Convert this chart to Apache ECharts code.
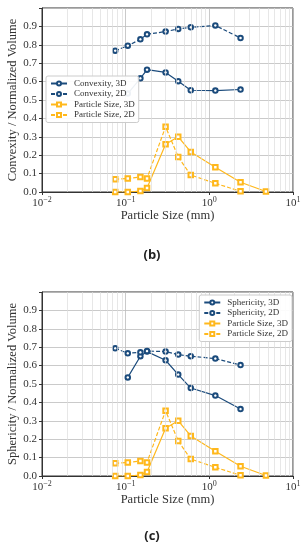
<!DOCTYPE html>
<html><head><meta charset="utf-8">
<script src="https://cdn.jsdelivr.net/npm/echarts@6/dist/echarts.min.js"></script>
<style>html,body{margin:0;padding:0;background:#fff}#c{width:304px;height:550px}</style>
</head><body><div id="c"></div>
<script>
// sieve sizes (mm)
const sizes = [0.075, 0.106, 0.15, 0.18, 0.3, 0.425, 0.6, 1.18, 2.36, 4.75];
const sizesShape = [0.075, 0.106, 0.15, 0.18, 0.3, 0.425, 0.6, 1.18, 2.36];
const sizes3D = [0.106, 0.15, 0.18, 0.3, 0.425, 0.6, 1.18, 2.36];
const psd3D = [0.0, 0.0, 0.005, 0.022, 0.26, 0.30, 0.218, 0.134, 0.053, 0.003];
const psd2D = [0.069, 0.074, 0.081, 0.074, 0.355, 0.19, 0.092, 0.047, 0.004, null];
const convexity3D = [0.535, 0.618, 0.665, 0.65, 0.602, 0.553, 0.551, 0.557];
const convexity2D = [0.768, 0.795, 0.83, 0.857, 0.872, 0.886, 0.895, 0.905, 0.837];
const sphericity3D = [0.536, 0.651, 0.676, 0.629, 0.551, 0.478, 0.437, 0.364];
const sphericity2D = [0.694, 0.667, 0.672, 0.679, 0.676, 0.66, 0.651, 0.638, 0.603];
const yTicks = [0, 0.1, 0.2, 0.3, 0.4, 0.5, 0.6, 0.7, 0.8, 0.9];
const minorX = [];
[0.01, 0.1, 1].forEach(d => { for (let k = 2; k <= 9; k++) minorX.push(+(d * k).toPrecision(3)); });

const BLUE = '#1b4b7c', YEL = '#ffb81c';
const FONT = 'Liberation Serif';
const pair = (xs, ys) => xs.map((x, i) => [x, ys[i]]).filter(p => p[1] !== null);

function xAxis(gi) {
  return {
    type: 'log', logBase: 10, min: 0.01, max: 10, gridIndex: gi,
    name: 'Particle Size (mm)', nameLocation: 'middle', nameGap: 17, nameMoveOverlap: false,
    nameTextStyle: { fontFamily: FONT, fontSize: 12.5, color: '#333' },
    axisLine: { show: true, lineStyle: { color: '#333', width: 1 } },
    axisTick: { show: true, inside: false, length: 3, lineStyle: { color: '#333' } },
    axisLabel: {
      margin: 4, color: '#333', fontFamily: FONT, fontSize: 11,
      formatter: v => '{b|10}{s|' + (Math.round(Math.log10(v)) < 0 ? '\u2212' + Math.abs(Math.round(Math.log10(v))) : Math.round(Math.log10(v))) + '}',
      rich: { b: { fontFamily: FONT, fontSize: 11, color: '#333' }, s: { fontFamily: FONT, fontSize: 8, color: '#333', padding: [0, 0, 7, 0] } }
    },
    splitLine: { show: true, lineStyle: { color: '#bdbdbd', width: 0.8 } }
  };
}
function yAxis(gi, name) {
  return {
    type: 'value', min: 0, max: 1, interval: 0.1, gridIndex: gi,
    name: name, nameLocation: 'middle', nameGap: 23, nameMoveOverlap: false,
    nameTextStyle: { fontFamily: FONT, fontSize: 12.5, color: '#333' },
    axisLine: { show: true, lineStyle: { color: '#333', width: 1 } },
    axisTick: { show: true, length: 3, lineStyle: { color: '#333' } },
    axisLabel: { margin: 5, color: '#333', fontFamily: FONT, fontSize: 11,
      formatter: v => yTicks.some(t => Math.abs(t - v) < 1e-6) ? v.toFixed(1) : '' },
    splitLine: { show: true, lineStyle: { color: '#bdbdbd', width: 0.8 } }
  };
}
function minorLines() {
  return {
    silent: true, symbol: 'none', animation: false,
    label: { show: false },
    lineStyle: { color: '#dcdcdc', width: 0.7, type: 'solid' },
    data: minorX.map(v => ({ xAxis: v }))
  };
}
function shapeSeries(gi, name, xs, ys, dashed, withMinor) {
  const s = {
    name: name, type: 'line', xAxisIndex: gi, yAxisIndex: gi,
    data: pair(xs, ys), symbol: 'emptyCircle', symbolSize: 4.5,
    itemStyle: { color: BLUE, borderWidth: 1 },
    lineStyle: { color: BLUE, width: 1.2, type: dashed ? [4, 2] : 'solid' },
    animation: false, z: 3
  };
  if (withMinor) s.markLine = minorLines();
  return s;
}
function psdSeries(gi, name, ys, dashed) {
  return {
    name: name, type: 'line', xAxisIndex: gi, yAxisIndex: gi,
    data: pair(sizes, ys), symbol: 'emptyRect', symbolSize: 4.5,
    itemStyle: { color: YEL, borderWidth: 1 },
    lineStyle: { color: YEL, width: 1.2, type: dashed ? [4, 2] : 'solid' },
    animation: false, z: 3
  };
}
function legend(names, pos) {
  return Object.assign({
    data: names, orient: 'vertical', itemGap: 1.5, itemWidth: 16, itemHeight: 5, z: 20,
    backgroundColor: 'rgba(255,255,255,0.92)', borderColor: '#cccccc', borderWidth: 1, borderRadius: 2,
    padding: [3, 4, 3, 4], selectedMode: false,
    textStyle: { fontFamily: FONT, fontSize: 9, color: '#333', padding: [0, 0, 0, 2] }
  }, pos);
}

const chart = echarts.init(document.getElementById('c'));
chart.setOption({
  animation: false,
  backgroundColor: '#fff',
  grid: [
    { left: 42, right: 11, top: 8, height: 184, show: true, borderColor: '#333', borderWidth: 1, outerBoundsMode: 'none', containLabel: false },
    { left: 42, right: 11, top: 292, height: 184, show: true, borderColor: '#333', borderWidth: 1, outerBoundsMode: 'none', containLabel: false }
  ],
  xAxis: [xAxis(0), xAxis(1)],
  yAxis: [yAxis(0, 'Convexity / Normalized Volume'), yAxis(1, 'Sphericity / Normalized Volume')],
  legend: [
    legend(['Convexity, 3D', 'Convexity, 2D', 'Particle Size, 3D', 'Particle Size, 2D'], { left: 46, top: 76 }),
    legend(['Sphericity, 3D', 'Sphericity, 2D', 'Particle Size, 3D', 'Particle Size, 2D'], { right: 12, top: 295 })
  ],
  series: [
    shapeSeries(0, 'Convexity, 3D', sizes3D, convexity3D, false, true),
    shapeSeries(0, 'Convexity, 2D', sizesShape, convexity2D, true, false),
    psdSeries(0, 'Particle Size, 3D', psd3D, false),
    psdSeries(0, 'Particle Size, 2D', psd2D, true),
    shapeSeries(1, 'Sphericity, 3D', sizes3D, sphericity3D, false, true),
    shapeSeries(1, 'Sphericity, 2D', sizesShape, sphericity2D, true, false),
    psdSeries(1, 'Particle Size, 3D', psd3D, false),
    psdSeries(1, 'Particle Size, 2D', psd2D, true)
  ],
  graphic: [
    { type: 'text', left: 'center', top: 249, style: { text: '(b)', font: 'bold 13px "Open Sans"', fill: '#222' } },
    { type: 'text', left: 'center', top: 530, style: { text: '(c)', font: 'bold 13px "Open Sans"', fill: '#222' } }
  ]
});
</script></body></html>
